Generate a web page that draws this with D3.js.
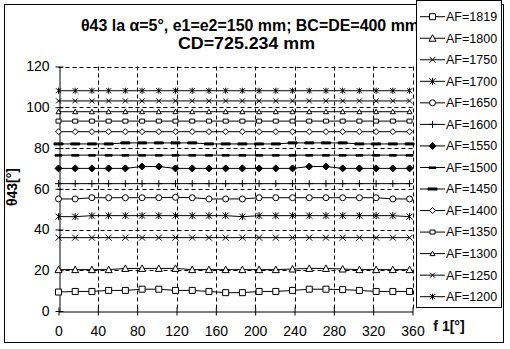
<!DOCTYPE html>
<html>
<head>
<meta charset="utf-8">
<script src="https://cdn.jsdelivr.net/npm/d3@7"></script>
<style>
  body { margin: 0; background: #fff; }
  text { font-family: Arial, "Liberation Sans", sans-serif; fill: #000; }
</style>
</head>
<body>
<svg id="chart" width="510" height="349"></svg>
<script>
// angle f1 in degrees
const angles = [0, 17, 34, 51, 68, 85, 102, 119, 136, 153, 170, 187, 204, 221, 238, 255, 272, 289, 306, 323, 340, 357];

const af1819 = [9.3, 9.6, 9.6, 10.1, 10.1, 10.7, 10.7, 10.1, 10.1, 9.6, 9.0, 9.0, 9.6, 9.6, 10.1, 10.7, 10.7, 10.5, 10.1, 9.6, 9.6, 9.6];
const af1800 = [20.3, 20.3, 20.3, 20.3, 20.9, 20.9, 20.9, 20.9, 20.3, 20.3, 20.3, 20.3, 20.3, 20.3, 20.6, 20.9, 20.9, 20.6, 20.3, 20.3, 20.3, 20.3];
const af1750 = [36.0, 36.0, 36.0, 36.0, 36.0, 36.0, 36.0, 36.0, 36.0, 36.0, 36.0, 36.0, 36.0, 36.0, 36.0, 36.0, 36.0, 36.0, 36.0, 36.0, 36.0, 36.0];
const af1700 = [46.3, 46.3, 46.8, 46.8, 46.8, 46.8, 46.8, 46.8, 46.8, 46.8, 46.8, 46.3, 46.8, 46.8, 46.8, 46.8, 46.8, 46.8, 46.8, 46.8, 46.8, 46.3];
const af1650 = [55.0, 55.0, 55.6, 55.6, 55.6, 55.6, 55.6, 55.8, 55.6, 55.0, 55.0, 55.0, 55.6, 55.6, 55.6, 55.6, 55.6, 55.6, 55.6, 55.6, 55.0, 55.0];
const af1600 = [62.5, 62.5, 62.5, 62.5, 62.5, 62.5, 62.5, 62.5, 62.5, 62.5, 62.5, 62.5, 62.5, 62.5, 62.5, 62.5, 62.5, 62.5, 62.5, 62.5, 62.5, 62.5];
const af1550 = [70.0, 70.0, 70.0, 70.0, 70.0, 70.9, 70.9, 70.0, 70.0, 70.0, 70.0, 70.0, 70.0, 70.0, 70.0, 70.9, 70.9, 70.0, 70.0, 70.0, 70.0, 70.0];
const af1500 = [76.5, 76.5, 76.5, 76.5, 76.5, 76.5, 76.5, 76.5, 76.5, 76.5, 76.5, 76.5, 76.5, 76.5, 76.5, 76.5, 76.5, 76.5, 76.5, 76.5, 76.5, 76.5];
const af1450 = [82.0, 82.0, 82.0, 82.0, 82.5, 82.5, 82.5, 82.5, 82.5, 82.0, 82.0, 82.0, 82.0, 82.0, 82.5, 82.5, 82.5, 82.5, 82.0, 82.0, 82.0, 82.0];
const af1400 = [88.0, 88.0, 88.0, 88.0, 88.0, 88.0, 88.0, 88.0, 88.0, 88.0, 88.0, 88.0, 88.0, 88.0, 88.0, 88.0, 88.0, 88.0, 88.0, 88.0, 88.0, 88.0];
const af1350 = [93.2, 93.2, 93.2, 93.2, 93.2, 93.2, 93.2, 93.2, 93.2, 93.2, 93.2, 93.2, 93.2, 93.2, 93.2, 93.2, 93.2, 93.2, 93.2, 93.2, 93.2, 93.2];
const af1300 = [97.8, 97.8, 97.8, 97.8, 97.8, 97.8, 97.8, 97.8, 97.8, 97.8, 97.8, 97.8, 97.8, 97.8, 97.8, 97.8, 97.8, 97.8, 97.8, 97.8, 97.8, 97.8];
const af1250 = [103.1, 103.1, 103.1, 103.1, 103.1, 103.1, 103.1, 103.1, 103.1, 103.1, 103.1, 103.1, 103.1, 103.1, 103.1, 103.1, 103.1, 103.1, 103.1, 103.1, 103.1, 103.1];
const af1200 = [108.1, 108.1, 108.1, 108.1, 108.1, 108.1, 108.1, 108.1, 108.1, 108.1, 108.1, 108.1, 108.1, 108.1, 108.1, 108.1, 108.1, 108.1, 108.1, 108.1, 108.1, 108.1];

const seriesNames = ["AF=1819", "AF=1800", "AF=1750", "AF=1700", "AF=1650", "AF=1600", "AF=1550",
                     "AF=1500", "AF=1450", "AF=1400", "AF=1350", "AF=1300", "AF=1250", "AF=1200"];
const seriesValues = [af1819, af1800, af1750, af1700, af1650, af1600, af1550,
                      af1500, af1450, af1400, af1350, af1300, af1250, af1200];
const seriesMarkers = ["square", "triangle", "cross", "star", "circle", "plus", "diamondFill",
                       "dash", "dashThick", "diamondSmall", "squareSmall", "triangleSmall", "crossSmall", "starSmall"];

const xTicks = [0, 40, 80, 120, 160, 200, 240, 280, 320, 360];
const yTicks = [0, 20, 40, 60, 80, 100, 120];

const svg = d3.select("#chart");

// outer chart border
svg.append("rect")
    .attr("x", 4.5).attr("y", 4.5)
    .attr("width", 499).attr("height", 338)
    .attr("fill", "#fff").attr("stroke", "#000");

let margin = {left: 58.5, right: 412.5, top: 66.5, bottom: 311};

let x = d3.scaleLinear().domain([0, 360]).range([margin.left, margin.right]);
let y = d3.scaleLinear().domain([0, 120]).range([margin.bottom, margin.top]);

// gridlines
svg.append("g")
    .selectAll("line")
    .data(yTicks.filter(d => d > 0))
    .join("line")
    .attr("x1", margin.left).attr("x2", margin.right)
    .attr("y1", d => Math.round(y(d)) + 0.5).attr("y2", d => Math.round(y(d)) + 0.5)
    .attr("stroke", "#000").attr("stroke-dasharray", "4,3");

svg.append("g")
    .selectAll("line")
    .data(xTicks.filter(d => d > 0))
    .join("line")
    .attr("x1", d => Math.round(x(d)) + 0.5).attr("x2", d => Math.round(x(d)) + 0.5)
    .attr("y1", margin.top).attr("y2", margin.bottom)
    .attr("stroke", "#000").attr("stroke-dasharray", "4,3");

// axes
let xAxis = svg.append("g")
    .attr("transform", "translate(0," + (Math.round(y(0)) + 0.5) + ")")
    .call(d3.axisBottom(x).tickValues(xTicks).tickSize(4).tickPadding(11).tickSizeOuter(0));
xAxis.selectAll(".tick line").attr("y1", -4);
xAxis.selectAll("text").style("font-size", "14px").attr("font-family", null);

let yAxis = svg.append("g")
    .attr("transform", "translate(" + (Math.round(x(0)) + 0.5) + ",0)")
    .call(d3.axisLeft(y).tickValues(yTicks).tickSize(4).tickPadding(6).tickSizeOuter(0));
yAxis.selectAll(".tick line").attr("x1", 4);
yAxis.selectAll("text").style("font-size", "14px").attr("font-family", null);
svg.selectAll(".domain").attr("stroke", "#000");

// marker shapes
function markerPath(type) {
    switch (type) {
        case "square": return "M-3,-3H3V3H-3Z";
        case "squareSmall": return "M-2.5,-2H2.5V2H-2.5Z";
        case "triangle": return "M0,-3.5L3.5,3L-3.5,3Z";
        case "triangleSmall": return "M0,-2.5L2.5,2L-2.5,2Z";
        case "cross": return "M-3,-3L3,3M-3,3L3,-3";
        case "crossSmall": return "M-2.5,-2.5L2.5,2.5M-2.5,2.5L2.5,-2.5";
        case "star": return "M-3,-3L3,3M-3,3L3,-3M0,-3.5V3.5";
        case "starSmall": return "M-2.5,-2.5L2.5,2.5M-2.5,2.5L2.5,-2.5M0,-3V3";
        case "circle": return "M3,0A3,3 0 1,1 -3,0A3,3 0 1,1 3,0";
        case "plus": return "M0,-3.5V3.5M-3.5,0H3.5";
        case "diamondFill": return "M0,-3.5L3.5,0L0,3.5L-3.5,0Z";
        case "diamondSmall": return "M0,-3L3,0L0,3L-3,0Z";
        case "dash": return "M-3.5,-0.5H3.5V1H-3.5Z";
        case "dashThick": return "M-4.5,-1H4.5V1H-4.5Z";
    }
}
function markerFill(type) {
    if (type == "diamondFill" || type == "dash" || type == "dashThick") return "#000";
    return "#fff";
}

let line = d3.line()
    .x(d => x(d[0]))
    .y(d => y(d[1]));

let plot = svg.append("g");
seriesValues.forEach((vals, i) => {
    let pts = angles.map((a, j) => [a, vals[j]]);
    plot.append("path")
        .datum(pts)
        .attr("d", line)
        .attr("fill", "none")
        .attr("stroke", "#000")
        .attr("stroke-width", 1);
    plot.append("g")
        .selectAll("path")
        .data(pts)
        .join("path")
        .attr("transform", d => "translate(" + x(d[0]) + "," + y(d[1]) + ")")
        .attr("d", markerPath(seriesMarkers[i]))
        .attr("fill", markerFill(seriesMarkers[i]))
        .attr("stroke", "#000")
        .attr("stroke-width", 1);
});

// title (first line runs under the legend, as in the original)
svg.append("text")
    .attr("x", 81).attr("y", 31)
    .attr("textLength", 338).attr("lengthAdjust", "spacingAndGlyphs")
    .style("font-size", "16px").style("font-weight", "bold")
    .text("θ43 la α=5°, e1=e2=150 mm; BC=DE=400 mm");
svg.append("text")
    .attr("x", 178).attr("y", 49)
    .attr("textLength", 137).attr("lengthAdjust", "spacingAndGlyphs")
    .style("font-size", "16px").style("font-weight", "bold")
    .text("CD=725.234 mm");

// axis titles
svg.append("text")
    .attr("transform", "translate(17,187) rotate(-90)")
    .attr("text-anchor", "middle")
    .style("font-size", "14px").style("font-weight", "bold")
    .text("θ43[°]");
svg.append("text")
    .attr("x", 449).attr("y", 331)
    .attr("text-anchor", "middle")
    .style("font-size", "14px").style("font-weight", "bold")
    .text("f 1[°]");

// legend
let legend = svg.append("g");
legend.append("rect")
    .attr("x", 416.5).attr("y", 0.5)
    .attr("width", 85).attr("height", 307)
    .attr("fill", "#fff").attr("stroke", "#000");

let ly = d3.scalePoint().domain(seriesNames).range([16.7, 296.7]);
seriesNames.forEach((name, i) => {
    let g = legend.append("g").attr("transform", "translate(0," + ly(name) + ")");
    g.append("line").attr("x1", 420).attr("x2", 445).attr("stroke", "#000");
    g.append("path")
        .attr("transform", "translate(432.5,0)")
        .attr("d", markerPath(seriesMarkers[i]))
        .attr("fill", markerFill(seriesMarkers[i]))
        .attr("stroke", "#000");
    g.append("text")
        .attr("x", 446).attr("y", 0)
        .attr("dy", "0.35em")
        .style("font-size", "12.5px")
        .text(name);
});
</script>
</body>
</html>
